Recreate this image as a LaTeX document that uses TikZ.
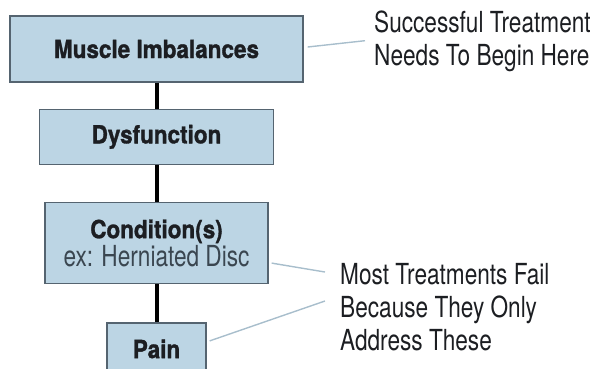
\documentclass[tikz,border=0pt]{standalone}
\usepackage{fontspec}
\setmainfont{TeX Gyre Heros}[FakeStretch=0.78]
\newfontfamily\boxfont{TeX Gyre Heros}[FakeStretch=0.9, BoldFeatures={FakeBold=1.2}]
\usetikzlibrary{positioning}
\definecolor{boxfill}{RGB}{188,213,228}
\definecolor{boxline}{RGB}{85,100,112}
\definecolor{leader}{RGB}{168,190,204}
\definecolor{inktext}{RGB}{28,30,34}
\definecolor{subtext}{RGB}{58,70,80}
\tikzstyle{block} = [draw=boxline, fill=boxfill, line width=1.3pt, rectangle, align=center, text=inktext, font=\boxfont\bfseries\fontsize{25}{29}\selectfont]
\tikzstyle{note} = [anchor=north west, align=left, inner sep=0pt, text=inktext, font=\fontsize{29}{33}\selectfont]
\tikzstyle{link} = [line width=4pt, black]
\tikzstyle{leaderline} = [line width=1.4pt, leader]

\begin{document}
\begin{tikzpicture}[x=1pt,y=1pt]
    \useasboundingbox (0,0) rectangle (603,-368);
    \clip (0,0) rectangle (603,-368);
    \node [block, minimum width=293pt, minimum height=66pt] (muscle) at (156.5,-49) {Muscle Imbalances};
    \node [block, minimum width=234pt, minimum height=55pt, below=26pt of muscle] (dysfunction) {Dysfunction};
    \node [block, minimum width=223pt, minimum height=81pt, below=37pt of dysfunction] (condition) {Condition(s)\\[-1pt]{\mdseries\color{subtext}\rmfamily\fontsize{29}{29}\selectfont ex: Herniated Disc}};
    \node [block, minimum width=99pt, minimum height=52pt, below=38pt of condition] (pain) {Pain};

    \node [note] (begin) at (374,-11) {Successful Treatment\\Needs To Begin Here};
    \node [note] (fail) at (340,-263) {Most Treatments Fail\\Because They Only\\Address These};

    \draw [link] (muscle) -- (dysfunction);
    \draw [link] (dysfunction) -- (condition);
    \draw [link] (condition) -- (pain);

    % leaders to the notes
    \coordinate (upper) at (325,-272);
    \coordinate (lower) at (325,-301);
    \draw [leaderline] ([xshift=4pt,yshift=2pt]muscle.east) -- ([xshift=-9pt,yshift=1pt]begin.west);
    \draw [leaderline] ([xshift=3pt,yshift=-20pt]condition.east) -- (upper);
    \draw [leaderline] ([xshift=3pt,yshift=8pt]pain.east) -- (lower);
\end{tikzpicture}
\end{document}
